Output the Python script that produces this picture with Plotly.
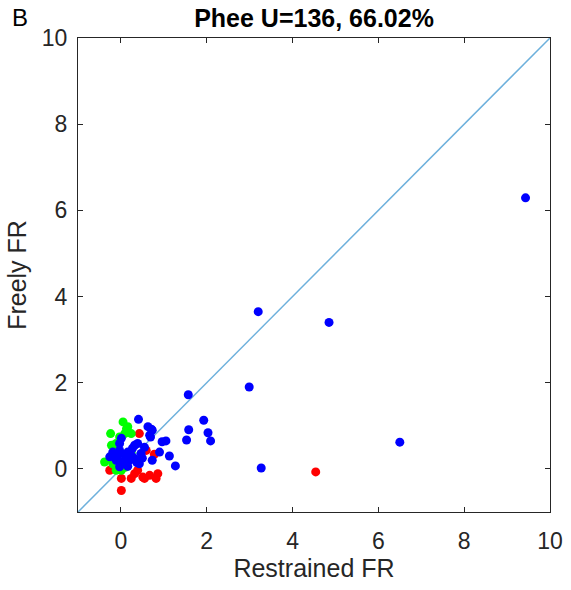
import plotly.graph_objects as go

# Data (Restrained FR, Freely FR)
red_x = [4.54, 0.78, 0.86, 0.82, 0.43, -0.26, 0.01, 0.01, 0.24, 0.32, 0.51, 0.67, 0.39, 0.59, 0.55]
red_y = [-0.07, 0.34, -0.11, -0.22, 0.82, -0.03, -0.22, -0.50, -0.22, -0.11, -0.19, -0.15, -0.03, 0.43, -0.22]

green_x = [0.05, 0.16, 0.24, -0.24, 0.09, -0.03, -0.22, -0.11, -0.38, -0.19, -0.11, 0.01, 0.24, 0.13, -0.08, 0.11]
green_y = [1.09, 0.98, 0.82, 0.82, 0.82, 0.74, 0.55, 0.59, 0.16, 0.12, -0.03, -0.03, 0.39, 0.93, 0.48, 0.04]

blue_x = [9.43, 3.20, 4.85, 2.99, 1.57, 1.93, 1.58, 2.03, 2.09, 1.53, 3.27, 6.50, 1.13, 1.27, 1.05, 0.96,
          0.90, 0.73, 0.73, 0.69, 0.41, 0.63, 0.71, 0.67, 0.32, 0.39, 0.47, 0.43, 0.01, -0.03, -0.19, -0.26,
          -0.11, 0.09, 0.16, 0.05, 0.20, -0.03, 0.16, 0.32, 0.24, 0.55, -0.03, 0.27, -0.08, 0.11, 0.37, 0.50]
blue_y = [6.29, 3.65, 3.40, 1.90, 1.72, 1.13, 0.91, 0.84, 0.65, 0.67, 0.02, 0.62, 0.30, 0.07, 0.65, 0.63,
          0.39, 0.20, 0.90, 0.74, 1.15, 0.98, 0.92, 0.78, 0.55, 0.59, 0.36, 0.12, 0.71, 0.59, 0.39, 0.28,
          0.20, 0.32, 0.39, 0.16, 0.20, 0.05, 0.06, 0.24, 0.32, 0.50, 0.43, 0.48, 0.29, 0.20, 0.15, 0.25]

diag = [-1, 10]
tick_vals = [0, 2, 4, 6, 8, 10]

FONT = "Liberation Sans, Arial, sans-serif"
AX = "#262626"

fig = go.Figure()
fig.add_trace(go.Scatter(x=diag, y=diag, mode="lines",
                         line=dict(color="#6DB0DC", width=1.5), showlegend=False, hoverinfo="skip"))
for xs, ys, c in [(red_x, red_y, "#FF0000"), (green_x, green_y, "#00FF00"), (blue_x, blue_y, "#0000FF")]:
    fig.add_trace(go.Scatter(x=xs, y=ys, mode="markers",
                             marker=dict(color=c, size=9, line=dict(width=0)), showlegend=False))

axis_common = dict(range=[-1, 10], tickvals=tick_vals, ticks="inside", ticklen=5, tickwidth=1,
                   tickcolor=AX, showline=True, linecolor=AX, linewidth=1, mirror="ticks",
                   showgrid=False, zeroline=False, tickfont=dict(family=FONT, size=23, color=AX))

fig.update_layout(
    width=571, height=590,
    margin=dict(l=78, r=21, t=38, b=78, autoexpand=False),
    plot_bgcolor="white", paper_bgcolor="white",
    title=dict(text="<b>Phee U=136, 66.02%</b>", x=0.5, xref="paper", xanchor="center",
               y=1 - 18 / 590, yref="container", yanchor="middle",
               font=dict(family=FONT, size=25, color="#000000")),
    xaxis=dict(**axis_common, ticklabelstandoff=8,
               title=dict(text="Restrained FR", standoff=4, font=dict(family=FONT, size=25, color=AX))),
    yaxis=dict(**axis_common, ticklabelstandoff=5,
               title=dict(text="Freely FR", standoff=8, font=dict(family=FONT, size=25, color=AX))),
    annotations=[dict(text="B", xref="paper", yref="paper", x=(20 - 78.3) / 471.0, y=(511.7 - 18) / 473.4,
                      xanchor="center", yanchor="middle", showarrow=False,
                      font=dict(family=FONT, size=24, color="#000000"))],
)

fig.write_html("out.html")
